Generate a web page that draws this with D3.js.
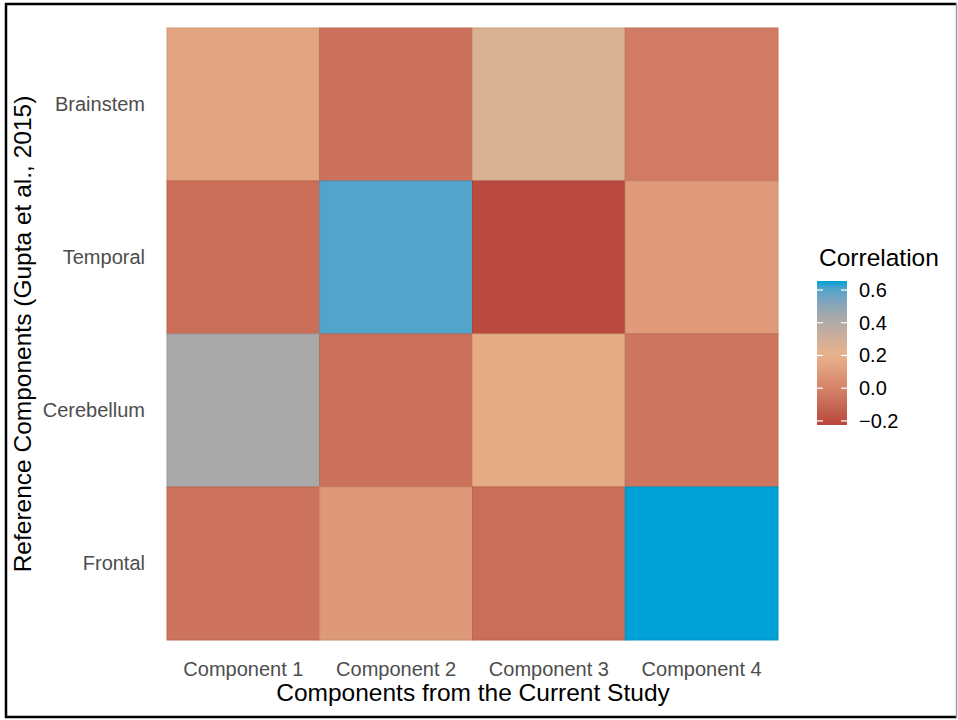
<!DOCTYPE html>
<html>
<head>
<meta charset="utf-8">
<script src="https://cdn.jsdelivr.net/npm/d3@7"></script>
<style>
  html, body { margin: 0; padding: 0; background: #fff; }
  svg { display: block; font-family: "Liberation Sans", Arial, sans-serif; }
</style>
</head>
<body>
<svg id="chart" width="958" height="720"></svg>
<script>
// Study components (columns) and reference components (rows, top to bottom)
const components = ["Component 1", "Component 2", "Component 3", "Component 4"];
const references = ["Brainstem", "Temporal", "Cerebellum", "Frontal"];

// Correlation of each reference component with each study component
const brainstem  = [0.14, -0.07, 0.26, -0.03];
const temporal   = [-0.08, 0.60, -0.21, 0.10];
const cerebellum = [0.43, -0.07, 0.17, -0.05];
const frontal    = [-0.06, 0.09, -0.08, 0.655];

// Legend ticks
const legendTicks = [-0.2, 0.0, 0.2, 0.4, 0.6];

const rows = { Brainstem: brainstem, Temporal: temporal, Cerebellum: cerebellum, Frontal: frontal };
const cells = [];
references.forEach(r => components.forEach((c, i) => cells.push({ ref: r, comp: c, value: rows[r][i] })));

const svg = d3.select("#chart");

// Outer frame
svg.append("line").attr("x1", 5).attr("x2", 957).attr("y1", 4).attr("y2", 4).attr("stroke", "#000").attr("stroke-width", 2.5);
svg.append("line").attr("x1", 6).attr("x2", 6).attr("y1", 3).attr("y2", 718).attr("stroke", "#000").attr("stroke-width", 2.5);
svg.append("line").attr("x1", 5).attr("x2", 957).attr("y1", 717).attr("y2", 717).attr("stroke", "#000").attr("stroke-width", 2.5);
svg.append("line").attr("x1", 956.5).attr("x2", 956.5).attr("y1", 3).attr("y2", 718).attr("stroke", "#9a9a9a").attr("stroke-width", 1.5);

const plot = { left: 167, top: 28, right: 778, bottom: 640 };

const x = d3.scaleBand().domain(components).range([plot.left, plot.right]).padding(0);
const y = d3.scaleBand().domain(references).range([plot.top, plot.bottom]).padding(0);

const vmin = -0.225, vmax = 0.655;
const color = d3.scaleLinear()
  .domain([vmin, 0.0, 0.2, 0.43, vmax])
  .range(["#b8463d", "#d4836a", "#e9b38b", "#a9a9a9", "#00a1d6"])
  .interpolate(d3.interpolateLab)
  .clamp(true);

// Heatmap tiles
svg.append("g").selectAll("rect").data(cells).join("rect")
  .attr("x", d => x(d.comp))
  .attr("y", d => y(d.ref))
  .attr("width", x.bandwidth())
  .attr("height", y.bandwidth())
  .attr("fill", d => color(d.value))
  .attr("stroke", d => d3.color(color(d.value)).darker(0.25))
  .attr("stroke-width", 1);

const font = "'Liberation Sans', Arial, sans-serif";

// X axis labels
const xAxis = svg.append("g").attr("transform", `translate(0,${plot.bottom})`)
  .call(d3.axisBottom(x).tickSize(0).tickPadding(22));
xAxis.select(".domain").remove();
xAxis.selectAll("text").attr("fill", "#4d4d4d").style("font-size", "20px").style("font-family", font);

// Y axis labels
const yAxis = svg.append("g").attr("transform", `translate(${plot.left},0)`)
  .call(d3.axisLeft(y).tickSize(0).tickPadding(22));
yAxis.select(".domain").remove();
yAxis.selectAll("text").attr("fill", "#4d4d4d").style("font-size", "20px").style("font-family", font);

// Axis titles
svg.append("text")
  .attr("x", (plot.left + plot.right) / 2 + 0.5).attr("y", 701)
  .attr("text-anchor", "middle").attr("fill", "#000")
  .style("font-size", "24.5px")
  .text("Components from the Current Study");

svg.append("text")
  .attr("transform", `translate(31,${(plot.top + plot.bottom) / 2}) rotate(-90)`)
  .attr("text-anchor", "middle").attr("fill", "#000")
  .style("font-size", "24.5px")
  .text("Reference Components (Gupta et al., 2015)");

// Legend
const lg = { x: 817, top: 281, bottom: 425, width: 30 };
const legendY = d3.scaleLinear().domain([vmin, vmax]).range([lg.bottom, lg.top]);

svg.append("text")
  .attr("x", 819).attr("y", 266)
  .attr("fill", "#000").style("font-size", "24.5px")
  .text("Correlation");

const defs = svg.append("defs");
const grad = defs.append("linearGradient").attr("id", "legend-grad")
  .attr("x1", 0).attr("y1", 1).attr("x2", 0).attr("y2", 0);
d3.range(0, 1.0001, 0.05).forEach(t => {
  grad.append("stop").attr("offset", t).attr("stop-color", color(vmin + t * (vmax - vmin)));
});

svg.append("rect")
  .attr("x", lg.x).attr("y", lg.top)
  .attr("width", lg.width).attr("height", lg.bottom - lg.top)
  .attr("fill", "url(#legend-grad)");

const tickG = svg.append("g");
legendTicks.forEach(v => {
  const ty = legendY(v);
  tickG.append("line").attr("x1", lg.x).attr("x2", lg.x + 6).attr("y1", ty).attr("y2", ty)
    .attr("stroke", "#fff").attr("stroke-width", 1.2);
  tickG.append("line").attr("x1", lg.x + lg.width - 6).attr("x2", lg.x + lg.width).attr("y1", ty).attr("y2", ty)
    .attr("stroke", "#fff").attr("stroke-width", 1.2);
  tickG.append("text")
    .attr("x", lg.x + lg.width + 12).attr("y", ty).attr("dy", "0.35em")
    .attr("fill", "#000").style("font-size", "20px")
    .text(v < 0 ? "\u2212" + Math.abs(v).toFixed(1) : v.toFixed(1));
});
</script>
</body>
</html>
